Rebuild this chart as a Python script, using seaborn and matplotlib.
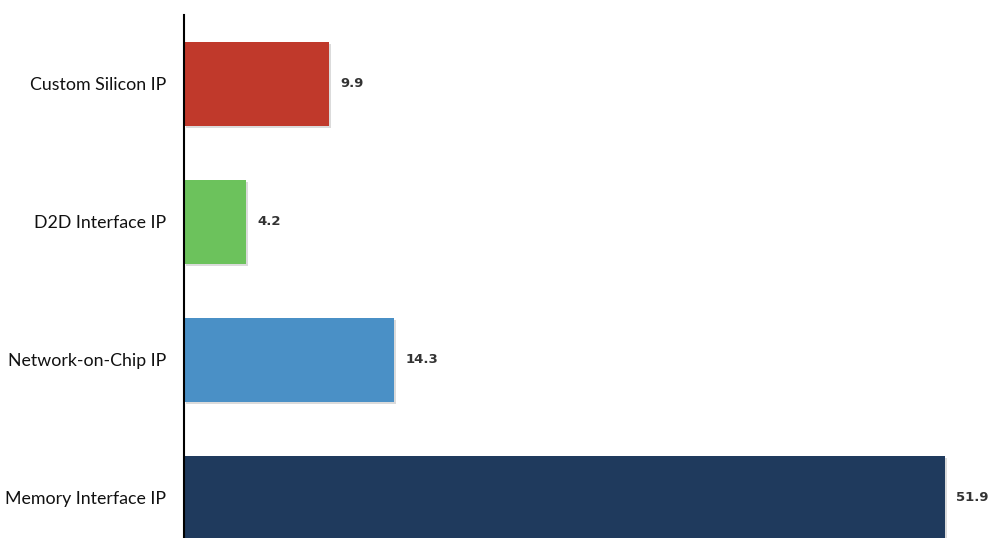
import matplotlib
matplotlib.use("Agg")
import matplotlib.pyplot as plt
import matplotlib.patheffects as pe
import seaborn as sns
import pandas as pd

categories = ["Custom Silicon IP", "D2D Interface IP", "Network-on-Chip IP", "Memory Interface IP"]
values = [9.9, 4.2, 14.3, 51.9]
colors = ["#C0392B", "#6CC25C", "#4A90C6", "#1F3A5D"]

df = pd.DataFrame({"category": categories, "value": values})

sns.set_theme(style="white")
plt.rcParams["font.family"] = ["Lato", "DejaVu Sans"]

W, H = 990, 538
fig = plt.figure(figsize=(W / 100, H / 100), dpi=100)
ax = fig.add_axes([184 / W, 0, (W - 184) / W, (H - 15) / H])

sns.barplot(data=df, y="category", x="value", hue="category", palette=colors,
            order=categories, orient="h", width=0.61, dodge=False, legend=False, ax=ax,
            edgecolor="none", saturation=1)

for p in ax.patches:
    p.set_path_effects([pe.SimplePatchShadow(offset=(1.5, -1.5), shadow_rgbFace="#9a9a9a", alpha=0.35),
                        pe.Normal()])

for i, v in enumerate(values):
    ax.text(v + 0.8, i, f"{v}", va="center", ha="left", fontsize=9.5,
            fontweight="bold", color="#333333", family=["DejaVu Sans"])

ax.set_xlim(0, 55)
ax.set_ylim(3.29, -0.5)
ax.set_xlabel("")
ax.set_ylabel("")
ax.set_xticks([])
for s in ["top", "right", "bottom"]:
    ax.spines[s].set_visible(False)
ax.spines["left"].set_color("black")
ax.spines["left"].set_linewidth(1.5)
ax.tick_params(axis="y", length=0, pad=13, labelsize=12.8, labelcolor="#111111")

fig.savefig("out.png", dpi=100)
